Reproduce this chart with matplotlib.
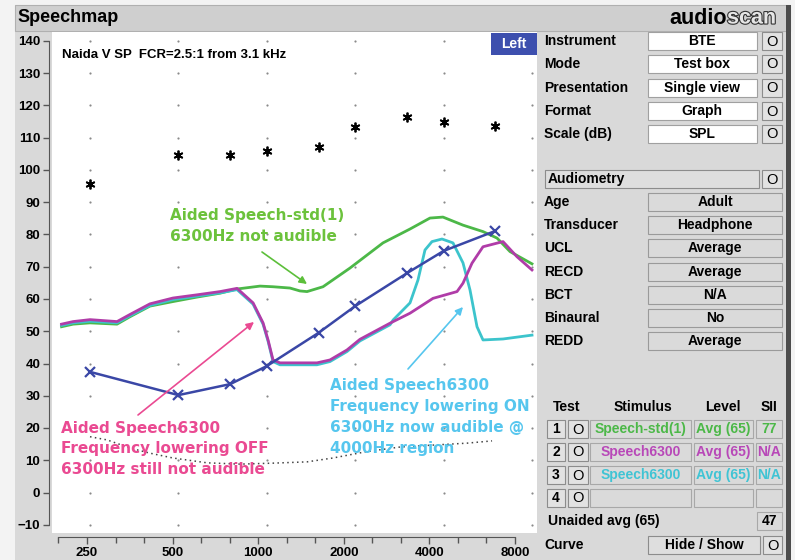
import numpy as np
import matplotlib.pyplot as plt
from matplotlib.patches import Rectangle
import matplotlib.patheffects as pe

aud_freq = [250, 500, 750, 1000, 1500, 2000, 3000, 4000, 6000]
threshold = [37.4, 30.2, 33.6, 39.2, 49.5, 57.8, 68.0, 74.9, 81.1]
ucl = [95.7, 104.7, 104.7, 105.9, 107.1, 113.3, 116.4, 114.9, 113.6]

green_f = [200, 219, 250, 309, 342, 400, 479, 579, 693, 792, 948, 1050, 1199, 1297,
           1371, 1554, 1920, 2487, 3074, 3595, 3980, 4657, 5448, 6080, 6733, 8000]
green_db = [51.4, 52.2, 52.6, 52.2, 54.5, 57.8, 59.2, 60.6, 61.8, 63.1, 64.0, 63.8, 63.4, 62.5,
            62.3, 63.8, 69.6, 77.4, 81.7, 85.1, 85.4, 82.9, 80.9, 78.9, 74.7, 70.9]

magenta_f = [200, 219, 250, 309, 342, 400, 479, 579, 693, 792, 898, 971, 1010, 1050, 1109,
             1482, 1641, 1875, 2076, 2628, 3074, 3681, 4444, 4657, 4997, 5448, 6373, 7113, 8000]
magenta_db = [52.2, 53.0, 53.6, 53.0, 55.2, 58.5, 60.3, 61.3, 62.3, 63.3, 58.8, 52.6, 47.3, 41.1, 40.2,
              40.2, 41.1, 44.2, 47.5, 52.5, 55.6, 60.2, 62.3, 64.9, 71.1, 76.2, 77.8, 73.1, 69.0]

cyan_f = [200, 219, 250, 309, 342, 400, 479, 579, 693, 792, 898, 971, 1010, 1050, 1109,
          1482, 1641, 1875, 2076, 2628, 2693, 3074, 3272, 3457, 3652, 3950, 4305, 4657,
          4920, 5198, 5448, 6373, 8000]
cyan_db = [51.8, 52.6, 53.1, 52.6, 54.8, 58.0, 59.8, 60.9, 61.9, 62.9, 58.4, 52.2, 46.9, 40.6, 39.6,
           39.6, 40.6, 43.7, 47.0, 52.0, 53.5, 58.8, 65.9, 75.2, 77.8, 78.6, 77.4, 71.2,
           62.8, 51.4, 47.3, 47.6, 48.8]

dotted_f = [250, 286, 342, 400, 479, 626, 811, 1050, 1371, 1680, 2194, 2842, 3681, 4806, 5848]
dotted_db = [17.3, 16.3, 13.8, 12.2, 10.7, 9.2, 8.8, 9.1, 9.5, 10.7, 12.7, 14.1, 14.7, 15.3, 16.0]

oct_ticks = [250, 500, 1000, 2000, 4000, 8000]
db_ticks = list(range(-10, 141, 10))

settings = [("Instrument", "BTE"), ("Mode", "Test box"), ("Presentation", "Single view"),
            ("Format", "Graph"), ("Scale (dB)", "SPL")]
audiometry = [("Age", "Adult"), ("Transducer", "Headphone"), ("UCL", "Average"),
              ("RECD", "Average"), ("BCT", "N/A"), ("Binaural", "No"), ("REDD", "Average")]
tests = [("1", "Speech-std(1)", "Avg (65)", "77"), ("2", "Speech6300", "Avg (65)", "N/A"),
         ("3", "Speech6300", "Avg (65)", "N/A"), ("4", "", "", "")]

GREEN = "#4cb848"
MAGENTA = "#b03ca8"
CYAN = "#3cc4cc"
BLUE = "#3a47a6"
PINK_TXT = "#ea4a92"
GREEN_TXT = "#6cc23c"
CYAN_TXT = "#56c6ee"
test_colors = [GREEN, "#b848b8", "#40c4d4", "k"]

W, H = 795, 560
UI = "Liberation Sans"


def fx(x):
    return x / W


def fy(y):
    return 1 - y / H


def box(x0, y0, x1, y1, fc, ec="#9a9a9a", lw=0.8, z=1):
    fig.add_artist(Rectangle((fx(x0), fy(y1)), fx(x1) - fx(x0), fy(y0) - fy(y1),
                             transform=fig.transFigure, fc=fc, ec=ec, lw=lw, zorder=z))


def txt(x, y, s, ha="left", size=10, color="k", weight="bold", **kw):
    fig.text(fx(x), fy(y), s, ha=ha, va="center", fontsize=size, color=color,
             weight=weight, family=UI, **kw)


def obutton(x0, y0, x1, y1):
    box(x0, y0, x1, y1, "#e2e2e2", ec="#8c8c8c")
    txt((x0 + x1) / 2, (y0 + y1) / 2 + 0.5, "O", ha="center", size=10.5, weight="normal")


fig = plt.figure(figsize=(W / 100, H / 100), dpi=100)
fig.patch.set_facecolor("#f3f3f3")

# window body and title bar
box(15, 5, 790, 560, "#d9d9d9", ec="none", z=0)
box(15, 5, 790, 31, "#cfcfcf", ec="#b0b0b0", z=0)
box(786, 5, 791, 560, "#4c4c4c", ec="none", z=0)
txt(17, 18, "Speechmap", size=13)
txt(727, 18, "audio", ha="right", size=15.5, color="k")
fig.text(fx(727), fy(18), "scan", ha="left", va="center", fontsize=15.5, weight="bold",
         family=UI, color="#e6e6e6",
         path_effects=[pe.withStroke(linewidth=1.6, foreground="#333333")])

# ---- main speechmap axes ----
def fpx(x):
    return 250 * 2 ** ((x - 90) / 88.4)


def dbpx(y):
    return (492.5 - y) / 3.225


ax = fig.add_axes([fx(52), fy(533), fx(537) - fx(52), fy(32) - fy(533)])
ax.set_facecolor("white")
ax.set_xscale("log", base=2)
ax.set_xlim(fpx(52), fpx(537))
ax.set_ylim(dbpx(533), dbpx(32))
for s in ["top", "right", "bottom"]:
    ax.spines[s].set_visible(False)
ax.spines["left"].set_position(("outward", 2.4))
ax.spines["left"].set_bounds(-10, 140)
ax.spines["left"].set_color("#555555")
ax.set_yticks(db_ticks)
ax.tick_params(axis="y", length=4, width=1, color="#555555", pad=2, labelsize=9.5)
for lab in ax.get_yticklabels():
    lab.set_family(UI)
    lab.set_weight("bold")
ax.set_xticks([])
ax.minorticks_off()
ax.tick_params(axis="x", which="both", length=0, labelbottom=False)

gx, gy = np.meshgrid(oct_ticks, db_ticks)
ax.scatter(gx.ravel(), gy.ravel(), s=2.5, color="#8a8a8a", lw=0, zorder=1)

ax.plot(dotted_f, dotted_db, ls=(0, (1, 2.2)), color="#444444", lw=1.1, zorder=2)
ax.plot(green_f, green_db, color=GREEN, lw=2, zorder=3)
ax.plot(cyan_f, cyan_db, color=CYAN, lw=2, zorder=3)
ax.plot(magenta_f, magenta_db, color=MAGENTA, lw=2, zorder=4)
ax.plot(aud_freq, threshold, color=BLUE, lw=1.8, marker="x", ms=7, mew=1.6, zorder=5)
ax.plot(aud_freq, ucl, ls="none", marker=(6, 2, 0), ms=7, mew=1.3, color="k", zorder=5)

fig.text(fx(62), fy(55), "Naida V SP  FCR=2.5:1 from 3.1 kHz", ha="left", va="center",
         fontsize=9.5, weight="bold", family=UI)
box(491, 33, 537, 55, "#3d4fae", ec="none", z=3)
fig.text(fx(514), fy(44), "Left", ha="center", va="center", fontsize=10, color="white",
         weight="bold", family=UI, zorder=4)

# annotations
ann = dict(ha="left", va="center", fontsize=11, weight="bold", family="DejaVu Sans",
           linespacing=1.5)
fig.text(fx(170), fy(226), "Aided Speech-std(1)\n6300Hz not audible", color=GREEN_TXT, **ann)
fig.text(fx(61), fy(449), "Aided Speech6300\nFrequency lowering OFF\n6300Hz still not audible",
         color=PINK_TXT, **ann)
fig.text(fx(330), fy(417), "Aided Speech6300\nFrequency lowering ON\n6300Hz now audible @\n4000Hz region",
         color=CYAN_TXT, **ann)
for (x0, y0, x1, y1, c) in [(262, 252, 307, 284, "#5cbf3a"), (138, 415, 254, 322, PINK_TXT),
                            (408, 369, 463, 307, CYAN_TXT)]:
    fig.add_artist(plt.Annotation("", xy=(fx(x1), fy(y1)), xytext=(fx(x0), fy(y0)),
                                  xycoords="figure fraction", textcoords="figure fraction",
                                  arrowprops=dict(arrowstyle="-|>", color=c, lw=1.2,
                                                  mutation_scale=11, shrinkA=0, shrinkB=0)))

# ---- frequency axis (drawn slightly off the graph scale, as on screen) ----
def fpx2(x):
    return 250 * 2 ** ((x - 87) / 85.6)


ax2 = fig.add_axes([fx(40), fy(537), fx(540) - fx(40), 0.002])
ax2.patch.set_alpha(0)
ax2.set_xscale("log", base=2)
ax2.set_xlim(fpx2(40), fpx2(540))
for s in ["top", "right", "left"]:
    ax2.spines[s].set_visible(False)
ax2.spines["bottom"].set_bounds(198, 8000)
ax2.spines["bottom"].set_color("#555555")
ax2.set_yticks([])
ax2.set_xticks(oct_ticks)
ax2.set_xticklabels([str(f) for f in oct_ticks])
ax2.set_xticks([250 * 2 ** (k / 3) for k in range(-1, 16) if k % 3], minor=True)
ax2.tick_params(axis="x", which="major", length=5, width=1, color="#555555", pad=2, labelsize=9.5)
ax2.tick_params(axis="x", which="minor", length=4, width=1, color="#555555", labelbottom=False)
for lab in ax2.get_xticklabels():
    lab.set_family(UI)
    lab.set_weight("bold")

# ---- right hand control panel ----
ys = [41, 64, 88, 111, 134]
for (label, val), y in zip(settings, ys):
    txt(544, y, label)
    box(648, y - 9, 757, y + 9, "white", ec="#a0a0a0")
    txt(702, y, val, ha="center")
    obutton(762, y - 9, 782, y + 9)

box(545, 170, 759, 188, "#dedede", ec="#8c8c8c")
txt(548, 179, "Audiometry")
obutton(762, 170, 782, 188)
ys = [202, 225, 248, 272, 295, 318, 341]
for (label, val), y in zip(audiometry, ys):
    txt(544, y, label)
    box(648, y - 9, 782, y + 9, "#dadada", ec="#9a9a9a")
    txt(715, y, val, ha="center")

txt(567, 407, "Test", ha="center")
txt(643, 407, "Stimulus", ha="center")
txt(723, 407, "Level", ha="center")
txt(769, 407, "SII", ha="center")
ys = [429, 452, 475, 498]
for (num, stim, lvl, sii), y, c in zip(tests, ys, test_colors):
    box(547, y - 9, 565, y + 9, "#e2e2e2", ec="#8c8c8c")
    txt(556, y, num, ha="center")
    obutton(568, y - 9, 588, y + 9)
    box(590, y - 9, 691, y + 9, "#dadada", ec="#a8a8a8")
    txt(641, y, stim, ha="center", color=c)
    box(694, y - 9, 753, y + 9, "#dadada", ec="#a8a8a8")
    txt(723, y, lvl, ha="center", color=c)
    box(756, y - 9, 782, y + 9, "#dadada", ec="#a8a8a8")
    txt(769, y, sii, ha="center", color=c)

txt(548, 521, "Unaided avg (65)")
box(757, 512, 782, 530, "#dadada", ec="#a8a8a8")
txt(770, 521, "47", ha="center")
txt(544, 545, "Curve")
box(648, 536, 760, 554, "#dedede", ec="#8c8c8c")
txt(704, 545, "Hide / Show", ha="center")
obutton(763, 536, 782, 554)

fig.savefig("out.png", dpi=100)
